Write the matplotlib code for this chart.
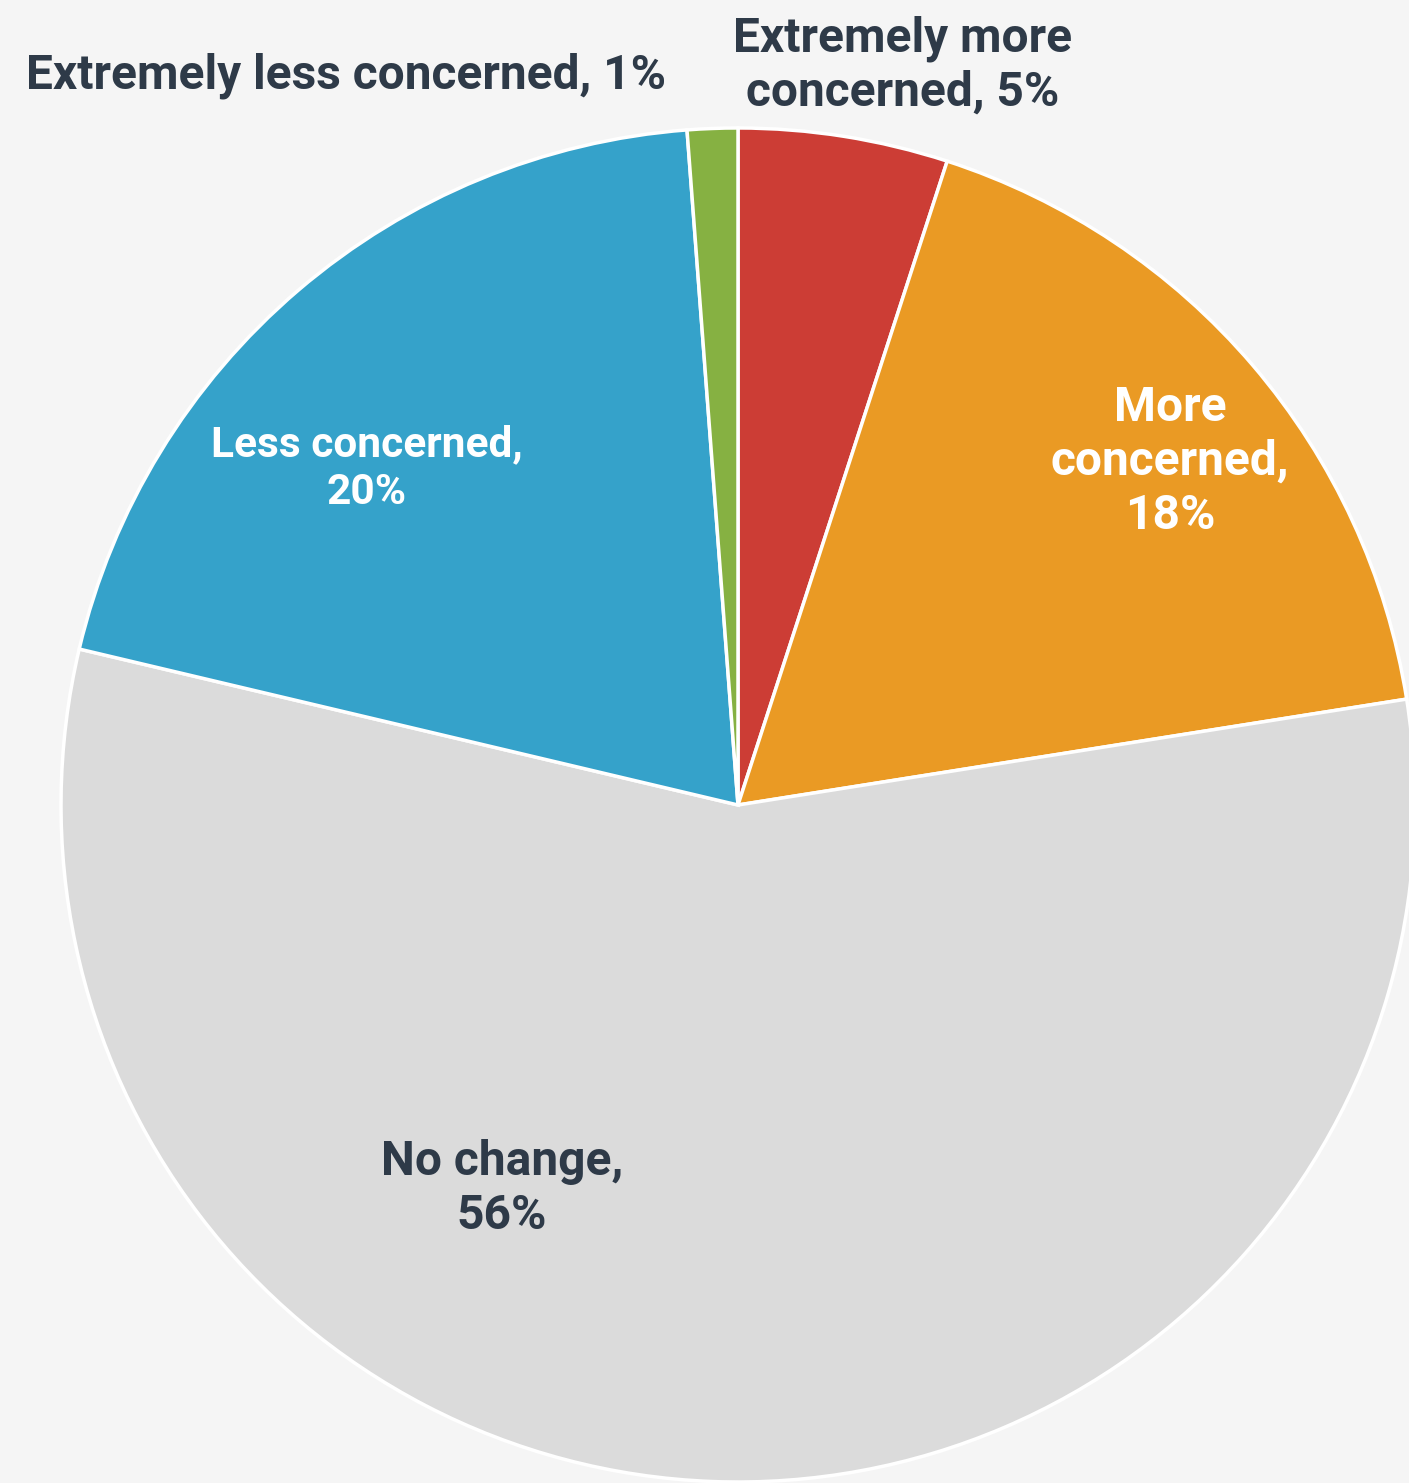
import numpy as np
import matplotlib.pyplot as plt

plt.rcParams['font.family'] = ['Roboto', 'DejaVu Sans']

categories = ["Extremely more concerned", "More concerned", "No change",
              "Less concerned", "Extremely less concerned"]
shares = [5.0, 17.5, 56.2, 20.1, 1.2]
shown = ["5%", "18%", "56%", "20%", "1%"]
colors = ["#CC3D35", "#EA9A24", "#DBDBDB", "#35A2CA", "#86B142"]

bg = "#F5F5F5"
dark = "#2E3A48"

fig = plt.figure(figsize=(14.09, 14.83), dpi=100, facecolor=bg)
ax = fig.add_axes([0, 0, 1, 1])
ax.set_facecolor(bg)

# pie in pixel units: center (738, 805) from top-left, radius 677
R = 677
ax.pie(shares, colors=colors, startangle=90, counterclock=False, radius=R,
       wedgeprops=dict(edgecolor="white", linewidth=2.5))
ax.set_xlim(-738, 1409 - 738)
ax.set_ylim(-(1483 - 805), 805)
ax.set_aspect('equal')
ax.axis('off')

def px(x, y):
    return x - 738, 805 - y

kw = dict(ha='center', va='center', fontweight='bold', linespacing=1.21)
ax.text(*px(903, 66), categories[0].replace(" concerned", "\nconcerned") + ", " + shown[0],
        color=dark, fontsize=34.5, **kw)
ax.text(*px(1170, 462), "More\nconcerned,\n" + shown[1], color="white", fontsize=34.5, **kw)
ax.text(*px(502, 1189), "No change,\n" + shown[2], color=dark, fontsize=34.5, **kw)
ax.text(*px(367, 469), categories[3] + ",\n" + shown[3], color="white", fontsize=30.5, **kw)
ax.text(*px(346, 76), categories[4] + ", " + shown[4], color=dark, fontsize=34.5, **kw)

fig.savefig("out.png", dpi=100, facecolor=bg)
